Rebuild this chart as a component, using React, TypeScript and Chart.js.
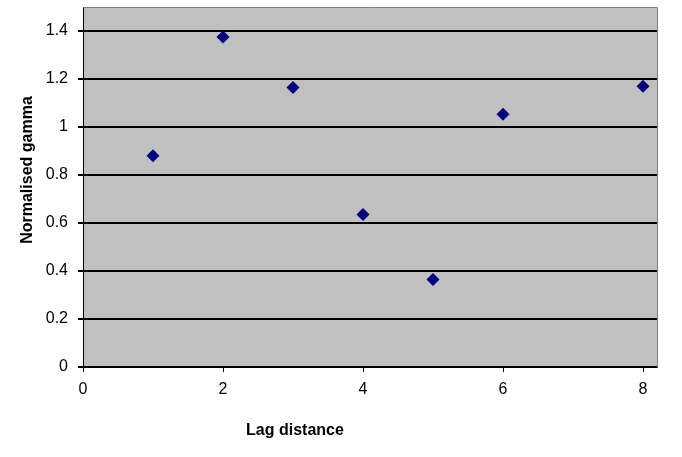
import React, { useEffect, useRef } from "react";
import { Chart, registerables } from "chart.js";

Chart.register(...registerables);

const lagDistance = [1, 2, 3, 4, 5, 6, 8];
const normalisedGamma = [0.88, 1.375, 1.165, 0.635, 0.365, 1.053, 1.17];
const xTickValues = [0, 2, 4, 6, 8];
const yTickValues = [0, 0.2, 0.4, 0.6, 0.8, 1, 1.2, 1.4];
const xTitle = "Lag distance";
const yTitle = "Normalised gamma";

const FONT = "'Liberation Sans', Arial, sans-serif";

const plotDecor = {
  id: "plotDecor",
  beforeDraw(chart: any) {
    const { ctx, chartArea: a } = chart;
    ctx.save();
    ctx.fillStyle = "#C0C0C0";
    ctx.fillRect(a.left, a.top, a.right - a.left, a.bottom - a.top);
    ctx.restore();
  },
  beforeDatasetsDraw(chart: any) {
    const { ctx, chartArea: a } = chart;
    ctx.save();
    ctx.strokeStyle = "#808080";
    ctx.lineWidth = 1;
    ctx.beginPath();
    ctx.moveTo(Math.round(a.left) + 0.5, Math.round(a.top) + 0.5);
    ctx.lineTo(Math.round(a.right) + 0.5, Math.round(a.top) + 0.5);
    ctx.lineTo(Math.round(a.right) + 0.5, Math.round(a.bottom) + 0.5);
    ctx.stroke();
    ctx.restore();
  },
  afterDraw(chart: any) {
    const { ctx } = chart;
    ctx.save();
    ctx.fillStyle = "#000";
    ctx.font = `bold 16px ${FONT}`;
    ctx.textAlign = "center";
    ctx.textBaseline = "alphabetic";
    ctx.fillText(xTitle, 295, 435);
    ctx.translate(32, 170);
    ctx.rotate(-Math.PI / 2);
    ctx.fillText(yTitle, 0, 0);
    ctx.restore();
  },
};

export default function App() {
  const ref = useRef<HTMLCanvasElement>(null);
  useEffect(() => {
    document.body.style.margin = "0";
    const chart = new Chart(ref.current!, {
      type: "scatter",
      data: {
        datasets: [
          {
            data: lagDistance.map((x, i) => ({ x, y: normalisedGamma[i] })),
            backgroundColor: "#000080",
            borderColor: "#000080",
            borderWidth: 0,
            pointStyle: "rectRot",
            pointRadius: 6.5,
            pointHoverRadius: 6.5,
          },
        ],
      },
      options: {
        animation: false,
        responsive: false,
        events: [],
        layout: { padding: { top: 7, right: 25, left: 0, bottom: 0 } },
        plugins: { legend: { display: false }, tooltip: { enabled: false } },
        scales: {
          x: {
            type: "linear",
            min: 0,
            max: 8.2,
            afterBuildTicks: (s: any) => {
              s.ticks = xTickValues.map((v) => ({ value: v }));
            },
            afterFit: (s: any) => {
              s.height = 90;
              s.paddingLeft = 0;
              s.paddingRight = 0;
            },
            grid: { drawOnChartArea: false, drawTicks: true, tickLength: 5, color: "#000" },
            border: { color: "#000", width: 1 },
            ticks: {
              color: "#000",
              padding: 8,
              maxRotation: 0,
              font: { family: FONT, size: 16 },
              callback: (v: any) => String(Math.round(v * 10) / 10),
            },
          },
          y: {
            type: "linear",
            min: 0,
            max: 1.5,
            afterBuildTicks: (s: any) => {
              s.ticks = yTickValues.map((v) => ({ value: v }));
            },
            afterFit: (s: any) => {
              s.width = 83;
              s.paddingTop = 0;
              s.paddingBottom = 0;
            },
            grid: { color: "#000", lineWidth: 2, drawTicks: true, tickLength: 5 },
            border: { color: "#000", width: 1 },
            ticks: {
              color: "#000",
              padding: 10,
              font: { family: FONT, size: 16 },
              callback: (v: any) => String(Math.round(v * 10) / 10),
            },
          },
        },
      },
      plugins: [plotDecor],
    });
    return () => chart.destroy();
  }, []);
  return <canvas ref={ref} width={682} height={457} style={{ display: "block" }} />;
}
